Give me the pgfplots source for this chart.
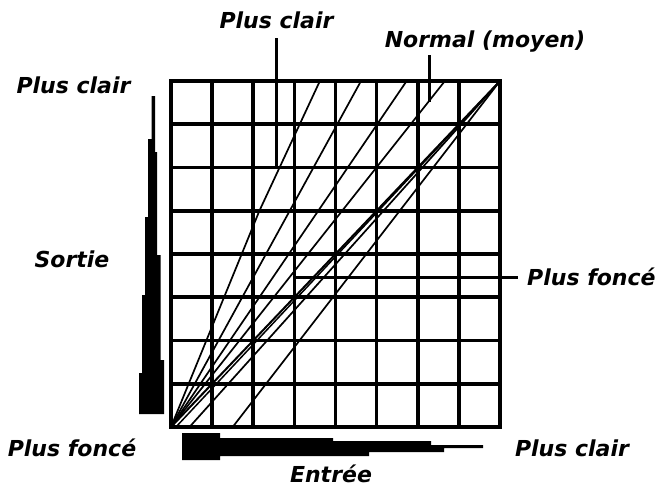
\documentclass[border=0pt]{standalone}
\usepackage{pgfplots}
\pgfplotsset{compat=1.18}
\usepackage{fontspec}
\setmainfont{DejaVu Sans}
\newfontfamily\lab{DejaVu Sans Bold Oblique}
\begin{document}
\begin{tikzpicture}
\useasboundingbox (0,0) rectangle (667bp,-486bp);
\begin{axis}[
  at={(171bp,-427bp)}, anchor=south west,
  width=329bp, height=346bp, scale only axis,
  xmin=0, xmax=8, ymin=0, ymax=8,
  xtick={0,...,8}, ytick={0,...,8},
  xticklabels={}, yticklabels={},
  major tick length=0pt,
  grid=major,
  major grid style={black, line width=3.6bp},
  axis line style={black, line width=3.8bp},
  clip=true,
]
% lighter curves (from origin, clipped at top)
\addplot[black, line width=1.7bp] coordinates {(0,0) (2.15,5) (3.62,8)};
\addplot[black, line width=1.7bp] coordinates {(0,0) (4.62,8)};
\addplot[black, line width=1.7bp] coordinates {(0,0) (5.73,8)};
\addplot[black, line width=1.7bp] coordinates {(0,0) (6.66,8)};
% normal (diagonal, doubled)
\addplot[black, line width=2bp] coordinates {(0,0) (8,8)};
\addplot[black, line width=1.5bp] coordinates {(0.12,0) (8,8)};
% darker curves
\addplot[black, line width=1.7bp] coordinates {(0.45,0) (8,8)};
\addplot[black, line width=1.7bp] coordinates {(1.5,0) (8,8)};
\end{axis}
\begin{scope}[x=1bp, y=-1bp]
% pointer lines
\draw[line width=2.4bp] (276.5,38) -- (276.5,167);
\draw[line width=2.4bp] (429.5,55) -- (429.5,102);
\draw[line width=2.4bp] (292.7,277.3) -- (518,277.3);
% wedges
\fill (151.7,96) -- (155,96) -- (155,152) -- (157,152) -- (157,255) -- (160.7,255) -- (160.7,360) -- (164,360) -- (164,414) -- (139,414) -- (139,373) -- (142,373) -- (142,295) -- (145,295) -- (145,217) -- (148,217) -- (148,139) -- (151.7,139) -- cycle;
\fill (182,433) -- (220,433) -- (220,438) -- (333,438) -- (333,441) -- (431,441) -- (431,445) -- (483,445) -- (483,448) -- (444,448) -- (444,452) -- (369,452) -- (369,456) -- (220,456) -- (220,460) -- (182,460) -- cycle;
% labels
\tikzset{lb/.style={inner sep=0pt, anchor=base, font=\lab\fontsize{22bp}{24bp}\selectfont}}
\node[lb] at (276.5,28) {Plus clair};
\node[lb] at (485,47) {Normal (moyen)};
\node[lb] at (73.5,93) {Plus clair};
\node[lb] at (72,267) {Sortie};
\node[lb] at (72,456) {Plus foncé};
\node[lb] at (572,456) {Plus clair};
\node[lb] at (331,482) {Entrée};
\node[lb, anchor=base west] at (527,285) {Plus foncé};
\end{scope}
\end{tikzpicture}
\end{document}
